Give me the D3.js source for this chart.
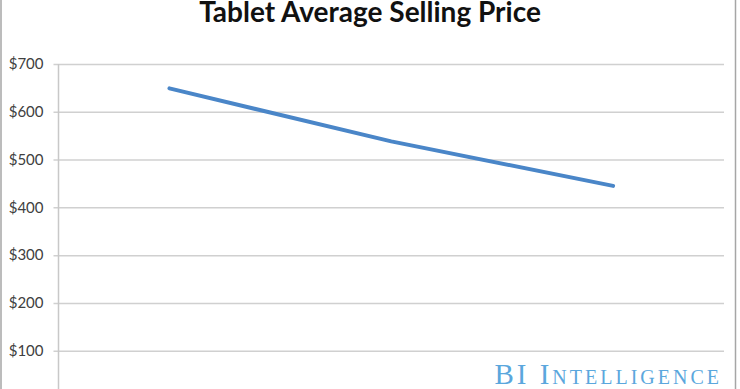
<!DOCTYPE html>
<html>
  <head>
    <meta charset="utf-8">
    <title>Tablet Average Selling Price</title>
    <script src="https://cdn.jsdelivr.net/npm/d3@7/dist/d3.min.js"></script>
    <style>
      html, body { margin: 0; padding: 0; background: #fff; }
      svg { display: block; }
    </style>
  </head>
  <body>
    <div id="main"></div>
  <script>
    // data (x labels sit below the visible crop)
    var years = ['2011', '2012', '2013'];
    var prices = [649, 538, 445];
    var yTicks = [100, 200, 300, 400, 500, 600, 700];

    var svgWidth = 740;
    var svgHeight = 389;
    var plotLeft = 58.5, plotRight = 724, plotTop = 64, plotBottom = 398.5;

    var svg = d3.select('#main')
      .append('svg')
      .attr('width', svgWidth)
      .attr('height', svgHeight);

    // outer frame (only the sides show in the crop)
    svg.append('line')
      .attr('x1', 1).attr('x2', 1).attr('y1', 0).attr('y2', svgHeight)
      .attr('stroke', '#a6a6a6').attr('stroke-width', 1.5);
    svg.append('line')
      .attr('x1', 735.5).attr('x2', 735.5).attr('y1', 0).attr('y2', svgHeight)
      .attr('stroke', '#a6a6a6').attr('stroke-width', 1.5);

    var x = d3.scaleBand().domain(years).range([plotLeft, plotRight]);
    var y = d3.scaleLinear().domain([0, 700]).range([plotBottom, plotTop]);

    // gridlines + y axis
    var yAxis = d3.axisLeft(y)
      .tickValues(yTicks)
      .tickSize(-(plotRight - plotLeft))
      .tickPadding(15)
      .tickFormat(function(d) { return '$' + d; });

    var gy = svg.append('g')
      .attr('transform', 'translate(' + plotLeft + ',0)')
      .call(yAxis);
    gy.select('.domain').remove();
    gy.selectAll('.tick line')
      .attr('x1', -5)
      .attr('stroke', '#d0d0d0')
      .attr('stroke-width', 1.5);
    gy.selectAll('.tick text')
      .attr('fill', '#404040')
      .style('font-family', 'Lato, sans-serif')
      .style('font-size', '15px');

    svg.append('line')
      .attr('x1', plotLeft).attr('x2', plotLeft)
      .attr('y1', plotTop).attr('y2', svgHeight)
      .attr('stroke', '#c8c8c8').attr('stroke-width', 1.5);

    // the price line
    var line = d3.line()
      .x(function(d, i) { return x(years[i]) + x.bandwidth() / 2; })
      .y(function(d) { return y(d); });

    svg.append('path')
      .datum(prices)
      .attr('d', line)
      .attr('fill', 'none')
      .attr('stroke', '#4a86c8')
      .attr('stroke-width', 4)
      .attr('stroke-linecap', 'round')
      .attr('stroke-linejoin', 'round');

    // title
    svg.append('text')
      .attr('x', 370)
      .attr('y', 22)
      .attr('text-anchor', 'middle')
      .attr('fill', '#111')
      .style('font-family', 'Lato, sans-serif')
      .style('font-weight', 'bold')
      .style('font-size', '28px')
      .text('Tablet Average Selling Price');

    // watermark
    svg.append('text')
      .attr('x', 722)
      .attr('y', 384)
      .attr('text-anchor', 'end')
      .attr('fill', '#5ba7dd')
      .style('font-family', 'Liberation Serif, serif')
      .style('font-variant', 'small-caps')
      .style('font-size', '29px')
      .style('letter-spacing', '3px')
      .text('BI Intelligence');
   </script>
  </body>
</html>
